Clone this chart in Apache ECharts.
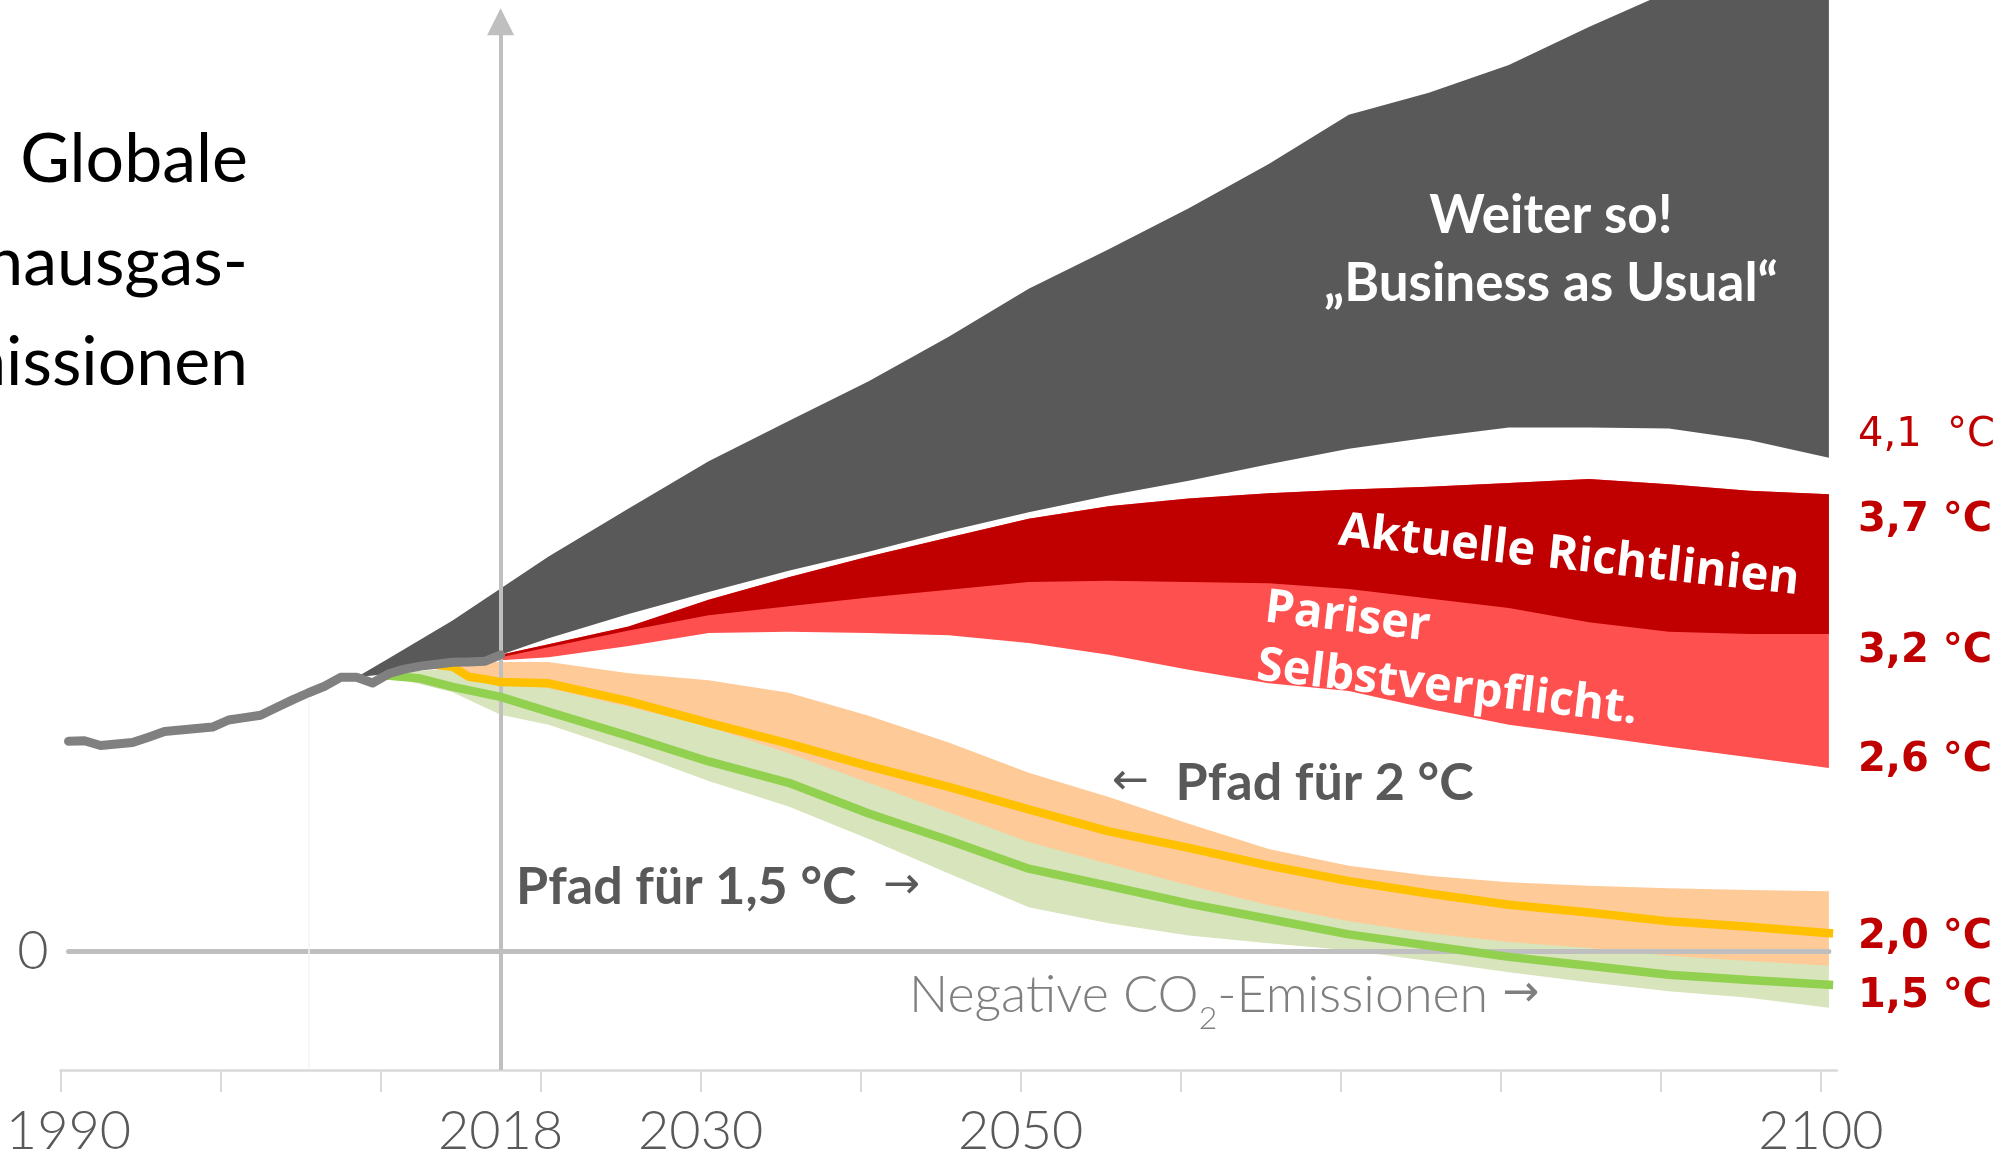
<!DOCTYPE html>
<html><head><meta charset="utf-8">
<script src="https://cdn.jsdelivr.net/npm/echarts@6/dist/echarts.min.js"></script>
<style>html,body{margin:0;padding:0;background:#fff;overflow:hidden}#c{width:2013px;height:1159px}</style>
</head><body><div id="c"></div>
<script>
// ---------------- DATA ----------------
// Historic global greenhouse-gas emissions (index units)
const histYears = [1990,1991,1992,1993,1994,1995,1996,1997,1998,1999,2000,2001,2002,2003,2004,2005,2006,2007,2008,2009,2010,2011,2012,2013,2014,2015,2016,2017];
const histValues = [35.5,35.6,34.8,35.05,35.3,36.2,37.15,37.4,37.65,37.9,39.1,39.5,39.9,41.2,42.5,43.7,44.8,46.3,46.3,45.35,46.9,47.7,48.2,48.5,48.85,48.9,49.0,50.1];

const scenYears = [2017,2020,2025,2030,2035,2040,2045,2050,2055,2060,2065,2070,2075,2080,2085,2090,2095,2100];

// Business as usual band
const bauYears = [2008,2010,2012,2014].concat(scenYears);
const bauLower = [46.3,46.9,48.2,48.85,50.1,52.9,57.0,60.7,64.3,67.5,71.0,74.2,77.0,79.5,82.3,84.9,86.8,88.5,88.5,88.3,86.4,83.4];
const bauUpper = [46.3,49.5,52.7,55.9,61.3,66.7,74.8,82.8,89.6,96.3,103.8,111.9,118.6,125.5,133.0,141.3,145.0,149.7,156.1,162.1,167.5,172.9];

// Current policies (upper) and Paris pledges (lower)
const policyUpper = [50.1,51.9,54.9,59.4,63.2,66.7,69.9,73.1,75.2,76.5,77.4,78.0,78.5,79.1,79.8,78.9,77.8,77.2];
const policyLower = [49.7,51.4,54.2,56.8,58.3,59.8,61.1,62.4,62.6,62.4,62.2,61.2,59.6,58.0,55.6,54.0,53.6,53.6];
const parisLower  = [49.2,49.7,51.6,53.8,54.0,53.8,53.4,52.1,50.1,47.6,45.3,44.0,41.0,38.3,36.5,34.6,32.8,31.0];

// 2 °C pathway
const twoYears = [2014].concat(scenYears);
const twoUpper = [48.8,48.9,48.9,47.0,45.8,43.7,39.8,35.3,30.2,26.1,21.6,17.3,14.5,12.8,11.7,11.1,10.7,10.4,10.2];
const twoLower = [48.0,45.2,44.5,41.3,38.0,33.5,28.5,23.5,18.5,14.8,11.2,7.8,5.1,3.1,1.6,0.6,-0.7,-1.6,-2.4];
const twoLineYears = [2013,2014,2015,2016].concat(scenYears);
const twoLine = [48.4,48.1,46.4,46.0,45.5,45.3,42.3,38.6,35.1,31.3,27.8,24.0,20.3,17.5,14.5,11.9,9.8,7.9,6.6,5.1,4.2,3.1];

// 1.5 °C pathway
const oneFiveYears = [2010,2014].concat(scenYears);
const oneFiveUpper = [47.0,47.8,46.2,45.0,42.0,38.5,35.0,30.5,26.0,21.0,17.0,13.0,10.0,7.5,5.5,4.0,2.8,1.8,1.0,0.3];
const oneFiveLower = [46.5,43.8,40.0,38.3,33.8,28.8,24.5,19.0,13.2,7.5,4.8,2.7,1.4,0.2,-1.6,-3.5,-5.2,-6.7,-7.8,-9.5];
const oneFiveLineYears = [2010,2012,2014].concat(scenYears);
const oneFiveLine = [46.6,46.1,44.7,43.0,40.5,36.4,32.1,28.5,23.3,18.8,14.0,11.1,8.1,5.5,2.9,1.0,-0.9,-2.4,-3.9,-4.8,-5.6];

// Axis
const tickYears = [1990,2000,2010,2020,2030,2040,2050,2060,2070,2080,2090,2100];
const labelYears = ['1990','2018','2030','2050','2100'];
const tempLabels = ['4,1  °C','3,7 °C','3,2 °C','2,6 °C','2,0 °C','1,5 °C'];

// ---------------- BUILD ----------------
// each year's value sits in the middle of its year
const pos = y => y + 0.5;
const pts = (ys, vs) => ys.map((y, i) => [pos(y), vs[i]]);
const lastHistYear = histYears[histYears.length - 1];
const labelPos = [pos(1990), pos(lastHistYear), 2030, 2050, 2100];

// a filled band between a lower and an upper curve, drawn through the axes
function band(ys, lo, up, color, clip) {
  const data = ys.map((y, i) => [pos(y), lo[i], up[i]]);
  return {
    type:'custom', data, encode:{x:0, y:[1,2]}, silent:true, z:2, clip:clip !== false,
    renderItem:(params, api) => {
      if (params.dataIndex !== 0) return null;
      const top = data.map(d => api.coord([d[0], d[2]]));
      const bot = data.map(d => api.coord([d[0], d[1]])).reverse();
      return {type:'polygon', shape:{points:top.concat(bot)}, style:{fill:color}};
    }
  };
}

const series = [
  band(oneFiveYears, oneFiveLower, oneFiveUpper, '#d8e4bc'),
  band(twoYears, twoLower, twoUpper, '#fecb98'),
  band(scenYears, parisLower, policyUpper, '#ff5050'),
  band(scenYears, policyLower, policyUpper, '#c00000'),
  band(bauYears, bauLower, bauUpper, '#595959', false),
  { // zero line + reference lines
    type:'line', data:[[pos(1990),0],[pos(2100),0]], symbol:'none', silent:true, z:3,
    lineStyle:{color:'#bfbfbf', width:5, cap:'round'},
    markLine:{silent:true, symbol:'none', label:{show:false}, animation:false,
      data:[
        [{coord:[pos(lastHistYear),-20], symbol:'none', lineStyle:{color:'#bfbfbf', width:4}},
         {coord:[pos(lastHistYear),157.0], symbol:'triangle', symbolSize:27, itemStyle:{color:'#bfbfbf'}}],
        [{coord:[pos(2100),-20], lineStyle:{color:'#d9d9d9', width:1.5}},{coord:[pos(2100),160.7]}],
        [{coord:[2005.5,-20], lineStyle:{color:'#f3f3f3', width:1.5}},{coord:[2005.5,43]}]
      ],
      lineStyle:{type:'solid'}
    }
  },
  {type:'line', data:pts(oneFiveLineYears, oneFiveLine), symbol:'none', silent:true, z:6,
    lineStyle:{color:'#92d050', width:8.5, cap:'square'}},
  {type:'line', data:pts(twoLineYears, twoLine), symbol:'none', silent:true, z:7,
    lineStyle:{color:'#ffc000', width:8.5, cap:'square'}},
  {type:'line', data:pts(histYears, histValues), symbol:'none', silent:true, z:8,
    lineStyle:{color:'#808080', width:9, cap:'round', join:'round'}}
];

const white = '#ffffff', dark = '#595959', red = '#c00000';
function txt(x, y, text, st, extra) {
  return Object.assign({type:'text', x, y, z:100, silent:true,
    style:Object.assign({text, align:'left', verticalAlign:'middle', textAlign:'left', textVerticalAlign:'middle'}, st)}, extra || {});
}
const titleSt = {fill:'#000', fontFamily:'Lato', fontSize:68, align:'right', textAlign:'right'};
const bandSt = {fill:white, fontFamily:'Open Sans', fontWeight:'bold', fontSize:47};
const pfadRich = {
  b:{fill:dark, fontFamily:'Lato', fontWeight:'bold', fontSize:52},
  sp:{fill:dark, fontFamily:'Lato', fontSize:52},
  a:{fill:dark, fontFamily:'DejaVu Sans', fontSize:44}
};
const tempSt = {fill:red, fontFamily:'DejaVu Sans', fontWeight:'bold', fontSize:40};

const graphic = [
  txt(248, 160, 'Globale', titleSt),
  txt(248, 263, 'Treibhausgas-', titleSt),
  txt(248, 363, 'Emissionen', titleSt),
  txt(1551, 216, 'Weiter so!', {fill:white, fontFamily:'Lato', fontWeight:'bold', fontSize:53, align:'center', textAlign:'center'}),
  txt(1551, 284, '\u201EBusiness as Usual\u201C', {fill:white, fontFamily:'Lato', fontWeight:'bold', fontSize:53, align:'center', textAlign:'center'}),
  txt(1569, 556, 'Aktuelle Richtlinien', Object.assign({align:'center', textAlign:'center'}, bandSt), {rotation:-0.107}),
  txt(1265, 608, 'Pariser', bandSt, {rotation:-0.115}),
  txt(1257, 666, 'Selbstverpflicht.', bandSt, {rotation:-0.115}),
  txt(1112, 783, '{a|\u2190}{sp|  }{b|Pfad für 2 °C}', {rich:pfadRich}),
  txt(516, 887, '{b|Pfad für 1,5 °C}{sp|  }{a|\u2192}', {rich:pfadRich}),
  txt(909, 995, '{n|Negative CO}{s|2}{n|-Emissionen }{a|\u2192}', {rich:{
    n:{fill:'#7f7f7f', fontFamily:'Lato', fontWeight:300, fontSize:52, lineHeight:80, verticalAlign:'middle'},
    s:{fill:'#7f7f7f', fontFamily:'Lato', fontWeight:300, fontSize:32, lineHeight:32, verticalAlign:'bottom'},
    a:{fill:'#7f7f7f', fontFamily:'DejaVu Sans', fontWeight:'normal', fontSize:44, lineHeight:80, verticalAlign:'middle'}
  }}),
  txt(1858, 436, tempLabels[0], Object.assign({}, tempSt, {fontWeight:'normal'})),
  txt(1858, 521, tempLabels[1], tempSt),
  txt(1858, 652, tempLabels[2], tempSt),
  txt(1858, 761, tempLabels[3], tempSt),
  txt(1858, 938, tempLabels[4], tempSt),
  txt(1858, 997, tempLabels[5], tempSt)
];

const option = {
  animation:false,
  backgroundColor:'#ffffff',
  grid:{left:60.5, right:176.1, top:4, bottom:78, containLabel:false},
  xAxis:{type:'value', min:1990, max:2101,
    axisLine:{show:true, onZero:false, lineStyle:{color:'#d9d9d9', width:2.5}},
    axisTick:{show:true, customValues:tickYears, length:22, lineStyle:{color:'#d9d9d9', width:2}},
    axisLabel:{show:true, customValues:labelPos, margin:35,
      formatter:v => { let k = 0, d = 1e9; labelPos.forEach((p,i)=>{ if (Math.abs(p-v) < d) { d = Math.abs(p-v); k = i; } }); return labelYears[k]; },
      fontFamily:'Lato', fontWeight:300, fontSize:54, color:'#595959'},
    splitLine:{show:false}},
  yAxis:{type:'value', min:-20, max:160, interval:20,
    axisLine:{show:false}, axisTick:{show:false}, splitLine:{show:false},
    axisLabel:{show:true, customValues:[0], formatter:v => String(v), margin:12, padding:[0,0,8,0],
      fontFamily:'Lato', fontWeight:300, fontSize:54, color:'#595959'}},
  series,
  graphic
};
const chart = echarts.init(document.getElementById('c'), null, {renderer:'canvas'});
chart.setOption(option);
</script></body></html>
